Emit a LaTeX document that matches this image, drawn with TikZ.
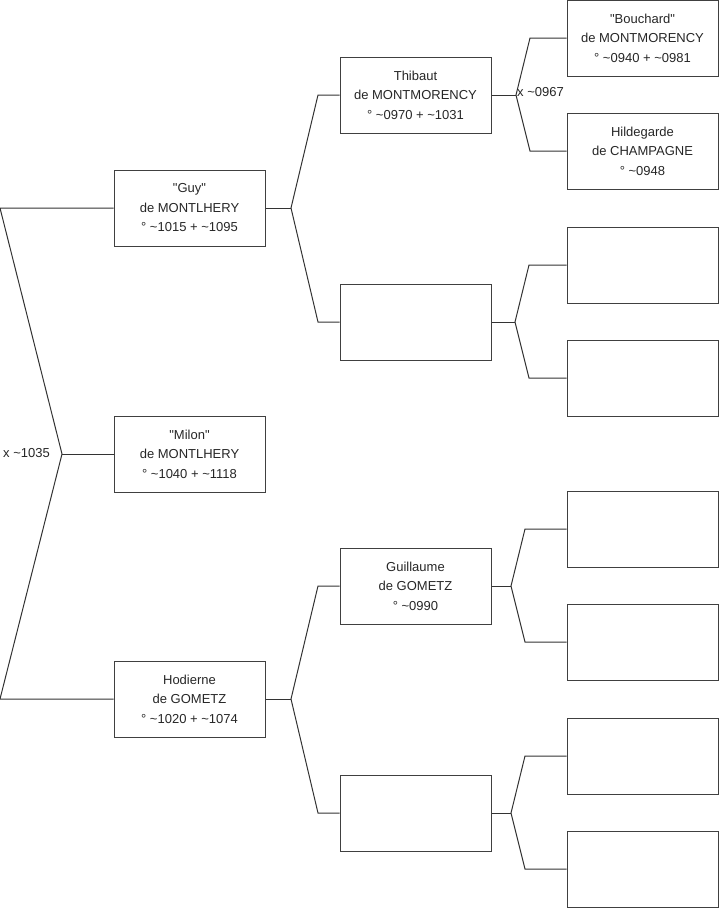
\documentclass[tikz,border=0pt]{standalone}
\usepackage{fontspec}
\setmainfont{Liberation Sans}
\usepackage{tikz}
\usetikzlibrary{positioning}

\newcommand{\appr}{\textasciitilde}
\newcommand{\qt}[1]{\textquotedbl{}#1\textquotedbl{}}

\begin{document}
\begin{tikzpicture}[x=1pt, y=-1pt,
  pers/.style={draw=black!75, line width=1pt, minimum width=151pt,
               minimum height=76pt, inner sep=0pt, align=center,
               font=\fontsize{13}{19.5}\selectfont, text=black!85},
  mar/.style={inner sep=0pt, font=\fontsize{13}{14}\selectfont, text=black!85},
  link/.style={line width=1pt, black!80}
]
  \useasboundingbox (0,0) rectangle (719,908);

  % generation 1
  \node[pers] (guy)   at (189.5,208) {\qt{Guy}\\de MONTLHERY\\° \appr1015 + \appr1095};
  \node[pers] (milon) at (189.5,454) {\qt{Milon}\\de MONTLHERY\\° \appr1040 + \appr1118};
  \node[pers] (hod)   at (189.5,699) {Hodierne\\de GOMETZ\\° \appr1020 + \appr1074};

  % generation 2
  \node[pers] (thib) at (415.5,95)  {Thibaut\\de MONTMORENCY\\° \appr0970 + \appr1031};
  \node[pers] (p2)   at (415.5,322) {};
  \node[pers] (guil) at (415.5,586) {Guillaume\\de GOMETZ\\° \appr0990};
  \node[pers] (p4)   at (415.5,813) {};

  % generation 3
  \node[pers] (bouch) at (642.5,38)  {\qt{Bouchard}\\de MONTMORENCY\\° \appr0940 + \appr0981};
  \node[pers] (hild)  at (642.5,151) {Hildegarde\\de CHAMPAGNE\\° \appr0948};
  \node[pers] (q3)    at (642.5,265) {};
  \node[pers] (q4)    at (642.5,378) {};
  \node[pers] (q5)    at (642.5,529) {};
  \node[pers] (q6)    at (642.5,642) {};
  \node[pers] (q7)    at (642.5,756) {};
  \node[pers] (q8)    at (642.5,869) {};

  % brackets
  \coordinate (j0) at (62,454);  \coordinate (a0) at (0,208);   \coordinate (b0) at (0,699);
  \coordinate (j1) at (291,208); \coordinate (a1) at (318,95);  \coordinate (b1) at (318,322);
  \coordinate (j2) at (516,95);  \coordinate (a2) at (530,38);  \coordinate (b2) at (530,151);
  \coordinate (j3) at (515,322); \coordinate (a3) at (529,265); \coordinate (b3) at (529,378);
  \coordinate (j4) at (291,699); \coordinate (a4) at (318,586); \coordinate (b4) at (318,813);
  \coordinate (j5) at (511,586); \coordinate (a5) at (525,529); \coordinate (b5) at (525,642);
  \coordinate (j6) at (511,813); \coordinate (a6) at (525,756); \coordinate (b6) at (525,869);

  \draw[link] (guy.west) -- (a0) -- (j0) -- (b0) -- (hod.west);
  \draw[link] (j0) -- (milon.west);
  \draw[link] (guy.east) -- (j1);
  \draw[link] (thib.west) -- (a1) -- (j1) -- (b1) -- (p2.west);
  \draw[link] (thib.east) -- (j2);
  \draw[link] (bouch.west) -- (a2) -- (j2) -- (b2) -- (hild.west);
  \draw[link] (p2.east) -- (j3);
  \draw[link] (q3.west) -- (a3) -- (j3) -- (b3) -- (q4.west);
  \draw[link] (hod.east) -- (j4);
  \draw[link] (guil.west) -- (a4) -- (j4) -- (b4) -- (p4.west);
  \draw[link] (guil.east) -- (j5);
  \draw[link] (q5.west) -- (a5) -- (j5) -- (b5) -- (q6.west);
  \draw[link] (p4.east) -- (j6);
  \draw[link] (q7.west) -- (a6) -- (j6) -- (b6) -- (q8.west);

  % marriages
  \node[mar, anchor=west] (m0) at (3,453) {x \appr1035};
  \node[mar, anchor=west] (m1) at (517,92) {x \appr0967};
\end{tikzpicture}
\end{document}
